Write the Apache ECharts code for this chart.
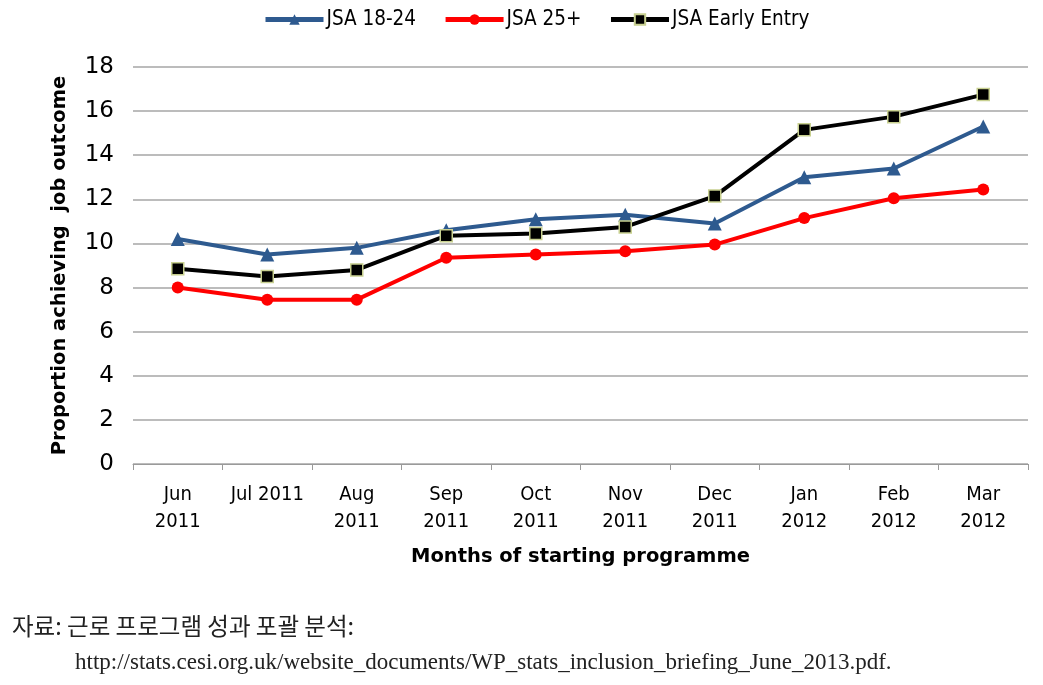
<!DOCTYPE html>
<html><head><meta charset="utf-8">
<script src="https://cdn.jsdelivr.net/npm/echarts@6/dist/echarts.min.js"></script>
<style>html,body{margin:0;padding:0;background:#fff}#c{width:1043px;height:685px}</style>
</head><body><div id="c"></div>
<script>
const categories = ['Jun\n2011','Jul 2011','Aug\n2011','Sep\n2011','Oct\n2011','Nov\n2011','Dec\n2011','Jan\n2012','Feb\n2012','Mar\n2012'];
const jsa1824 = [10.2, 9.5, 9.8, 10.6, 11.1, 11.3, 10.9, 13.0, 13.4, 15.3];
const jsa25 = [8.0, 7.45, 7.45, 9.35, 9.5, 9.65, 9.95, 11.15, 12.05, 12.45];
const jsaEarly = [8.85, 8.5, 8.8, 10.35, 10.45, 10.75, 12.15, 15.15, 15.75, 16.75];
const seriesNames = ['JSA 18-24','JSA 25+','JSA Early Entry'];
const yTicks = {min:0, max:18, interval:2};

const chart = echarts.init(document.getElementById('c'), null, {renderer:'canvas'});
chart.setOption({
  animation:false,
  backgroundColor:'#fff',
  legend:{
    top:4, left:258, itemWidth:58, itemHeight:13, itemGap:27,
    lineStyle:{width:5},
    textStyle:{fontFamily:'DejaVu Sans Condensed', fontSize:20.5, color:'#000', padding:[0,0,0,-2]},
    data:seriesNames
  },
  grid:{left:133, right:15, top:67, bottom:221},
  xAxis:{
    type:'category', data:categories, boundaryGap:true,
    axisLine:{lineStyle:{color:'#9a9a9a', width:1}},
    axisTick:{show:true, length:6, lineStyle:{color:'#9a9a9a'}},
    axisLabel:{fontFamily:'DejaVu Sans Condensed', fontSize:20, color:'#000', lineHeight:27, margin:17, interval:0},
    name:'Months of starting programme', nameLocation:'middle', nameGap:83,
    nameTextStyle:{fontFamily:'DejaVu Sans', fontWeight:'bold', fontSize:19.5, color:'#000'}
  },
  yAxis:{
    type:'value', min:yTicks.min, max:yTicks.max, interval:yTicks.interval,
    axisLine:{show:false}, axisTick:{show:false},
    splitLine:{lineStyle:{color:'#a6a6a6', width:1.5}},
    axisLabel:{fontFamily:'DejaVu Sans', fontSize:23, color:'#000', margin:19},
    name:'Proportion achieving  job outcome', nameLocation:'middle', nameGap:63, nameRotate:90,
    nameTextStyle:{fontFamily:'DejaVu Sans', fontWeight:'bold', fontSize:19.5, color:'#000'}
  },
  series:[
    {name:seriesNames[0], type:'line', data:jsa1824, symbol:'triangle', symbolSize:14,
     lineStyle:{color:'#2e5a8f', width:4}, itemStyle:{color:'#2e5a8f'}},
    {name:seriesNames[1], type:'line', data:jsa25, symbol:'circle', symbolSize:12,
     lineStyle:{color:'#ff0000', width:4}, itemStyle:{color:'#ff0000'}},
    {name:seriesNames[2], type:'line', data:jsaEarly, symbol:'rect', symbolSize:12,
     lineStyle:{color:'#000', width:4}, itemStyle:{color:'#000', borderColor:'#c8d090', borderWidth:1.5}}
  ],
  graphic:[
    {type:'text', left:12, top:614, style:{text:'자료: 근로 프로그램 성과 포괄 분석:', fontFamily:'Noto Sans CJK KR', fontSize:23.5, fill:'#222'}},
    {type:'text', left:75, top:651, style:{text:'http://stats.cesi.org.uk/website_documents/WP_stats_inclusion_briefing_June_2013.pdf.', fontFamily:'Liberation Serif', fontSize:23, fill:'#222'}}
  ]
});
</script></body></html>
